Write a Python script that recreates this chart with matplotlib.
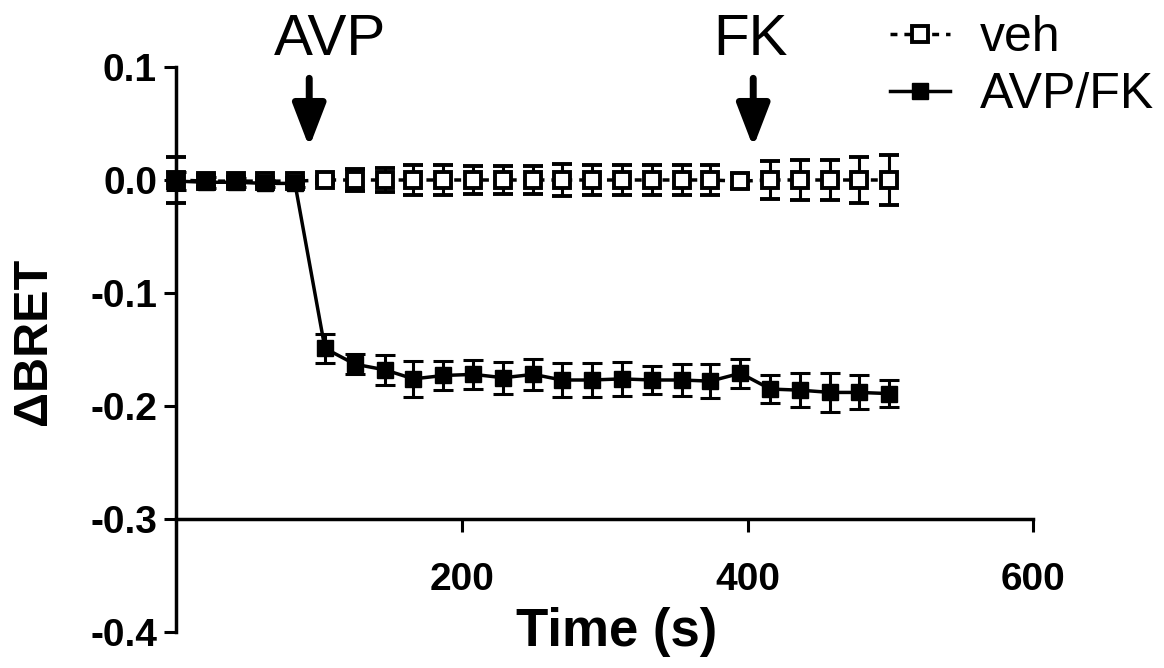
import matplotlib
matplotlib.use("Agg")
import matplotlib.pyplot as plt
from matplotlib.lines import Line2D

plt.rcParams['font.family'] = ['Liberation Sans', 'DejaVu Sans']

# sampling times (s)
time_s = [0, 21, 42, 62, 83, 104, 125, 146, 166, 187, 208, 229, 250,
          270, 291, 312, 333, 354, 374, 395, 416, 437, 458, 478, 499]

# vehicle
veh_mean = [0.000, -0.001, -0.001, -0.001, -0.001, 0.000, 0.000, 0.000, 0.000,
            0.000, 0.000, 0.000, 0.000, 0.000, 0.000, 0.000, 0.000, 0.000,
            0.000, -0.001, 0.000, 0.000, 0.000, 0.000, 0.000]
veh_sem = [0.020, 0.005, 0.004, 0.003, 0.003, 0.003, 0.010, 0.011, 0.013,
           0.013, 0.012, 0.012, 0.012, 0.014, 0.013, 0.013, 0.013, 0.013,
           0.013, 0.006, 0.017, 0.018, 0.018, 0.020, 0.022]

# AVP at ~90 s, forskolin at ~400 s
avp_mean = [-0.001, -0.002, -0.002, -0.003, -0.003, -0.149, -0.163, -0.168,
            -0.176, -0.173, -0.172, -0.175, -0.172, -0.177, -0.177, -0.176,
            -0.177, -0.177, -0.178, -0.171, -0.185, -0.186, -0.188, -0.188,
            -0.189]
avp_sem = [0.008, 0.005, 0.004, 0.003, 0.003, 0.013, 0.009, 0.013, 0.016,
           0.013, 0.013, 0.014, 0.014, 0.015, 0.015, 0.015, 0.012, 0.014,
           0.015, 0.013, 0.012, 0.015, 0.017, 0.015, 0.012]

avp_time, fk_time = 93, 404

fig = plt.figure(figsize=(11.64, 6.68), dpi=100)
ax = fig.add_axes([0.1516, 0.0539, 0.7359, 0.8458])

ax.errorbar(time_s, veh_mean, yerr=veh_sem, color='black', lw=2.5,
            linestyle=(0, (2, 2)), marker='s', markersize=11,
            markerfacecolor='white', markeredgecolor='black', markeredgewidth=2.8,
            ecolor='black', elinewidth=2.2, capsize=7, capthick=2.2,
            clip_on=False, zorder=3)
ax.errorbar(time_s, avp_mean, yerr=avp_sem, color='black', lw=2.5,
            linestyle='-', marker='s', markersize=12,
            markerfacecolor='black', markeredgecolor='black',
            ecolor='black', elinewidth=2.2, capsize=7, capthick=2.2,
            clip_on=False, zorder=4)

ax.set_xlim(0, 600)
ax.set_ylim(-0.4, 0.1)
ax.set_xticks([200, 400, 600])
ax.set_yticks([0.1, 0.0, -0.1, -0.2, -0.3, -0.4])
ax.set_yticklabels(['0.1', '0.0', '-0.1', '-0.2', '-0.3', '-0.4'])

for side in ['top', 'right']:
    ax.spines[side].set_visible(False)
ax.spines['bottom'].set_position(('data', -0.3))
for side in ['left', 'bottom']:
    ax.spines[side].set_linewidth(2.5)

ax.tick_params(axis='both', width=2.2, length=9, labelsize=28)
ax.tick_params(axis='x', pad=22)
ax.tick_params(axis='y', pad=5)
for lab in ax.get_xticklabels() + ax.get_yticklabels():
    lab.set_fontweight('bold')

fig.text(617 / 1164, 1 - 632 / 668, 'Time (s)', fontsize=38, fontweight='bold',
         ha='center', va='center')
fig.text(33 / 1164, 1 - 341 / 668, '\u0394BRET', fontsize=35, fontweight='bold',
         ha='center', va='center', rotation=90)

# treatment arrows
for t, name in [(avp_time, 'AVP'), (fk_time, 'FK')]:
    ax.annotate('', xy=(t, 0.029), xytext=(t, 0.090),
                arrowprops=dict(arrowstyle='-|>,head_width=0.5,head_length=1.3',
                                lw=5, color='black', mutation_scale=20,
                                shrinkA=0, shrinkB=0),
                annotation_clip=False)
fig.text(330 / 1164, 1 - 40 / 668, 'AVP', fontsize=42, ha='center', va='center')
fig.text(750 / 1164, 1 - 40 / 668, 'FK', fontsize=42, ha='center', va='center')

handles = [
    Line2D([], [], color='black', lw=2.5, linestyle=(0, (2, 2)), marker='s',
           markersize=11, markerfacecolor='white', markeredgewidth=2.8),
    Line2D([], [], color='black', lw=2.5, marker='s', markersize=12),
]
fig.legend(handles, ['veh', 'AVP/FK'], loc='upper left',
           bbox_to_anchor=(890 / 1164, 1 - 15 / 668), frameon=False,
           fontsize=36, handlelength=1.2, handletextpad=0.6,
           labelspacing=0.22, borderpad=0, borderaxespad=0)

fig.savefig('out.png', dpi=100)
